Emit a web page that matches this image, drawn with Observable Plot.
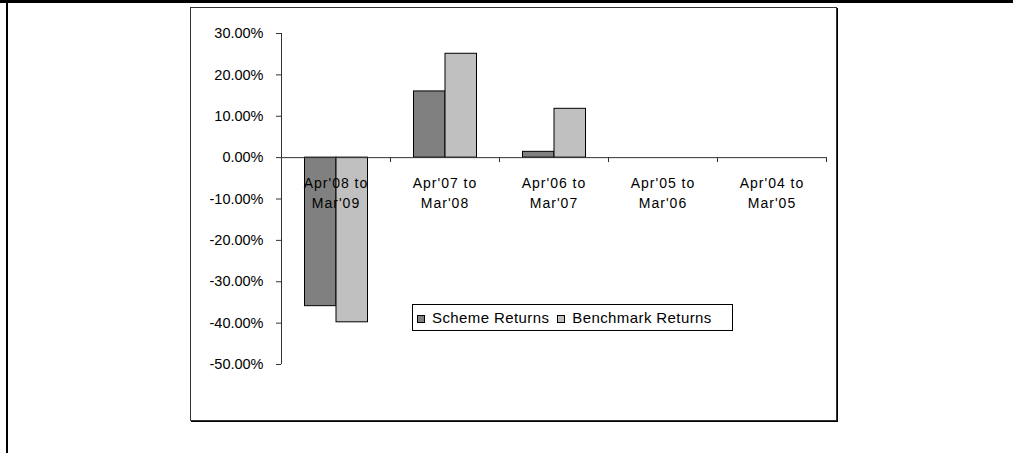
<!DOCTYPE html>
<html>
<head>
<meta charset="utf-8">
<script src="https://cdn.jsdelivr.net/npm/d3@7"></script>
<script src="https://cdn.jsdelivr.net/npm/@observablehq/plot@0.6"></script>
<style>
  html, body { margin: 0; padding: 0; background: #fff; }
  #wrap { position: relative; width: 1013px; height: 453px; overflow: hidden; font-family: "Liberation Sans", Arial, sans-serif; }
  #outerTop { position: absolute; left: 0; top: 0; width: 1013px; height: 3px; background: #000; }
  #outerLeft { position: absolute; left: 6px; top: 0; width: 2px; height: 453px; background: #000; }
  #chartBox { position: absolute; left: 190px; top: 7px; width: 645px; height: 412px; border: 1px solid #333; box-shadow: 1px 1px 0 #000; }
  #plot { position: absolute; left: 0; top: 0; }
  #legend { position: absolute; left: 412px; top: 304px; width: 321px; height: 27px; box-sizing: border-box; border: 1px solid #000; background: #fff;
            display: flex; align-items: center; padding-left: 4px; font-size: 15px; letter-spacing: 0.4px; color: #000; }
  #legend .sw { width: 8px; height: 8px; box-sizing: border-box; border: 1px solid #000; margin-right: 7px; margin-top: 2px; }
  #legend .item { display: flex; align-items: center; margin-right: 8px; white-space: nowrap; }
  .cat text { letter-spacing: 1px; }
</style>
</head>
<body>
<div id="wrap">
  <div id="outerTop"></div>
  <div id="outerLeft"></div>
  <div id="chartBox"></div>
  <div id="plot"></div>
  <div id="legend"></div>
</div>
<script>
// ---- data ----
const categories = ["Apr'08 to Mar'09", "Apr'07 to Mar'08", "Apr'06 to Mar'07", "Apr'05 to Mar'06", "Apr'04 to Mar'05"];
const categoryLabels = ["Apr'08 to\nMar'09", "Apr'07 to\nMar'08", "Apr'06 to\nMar'07", "Apr'05 to\nMar'06", "Apr'04 to\nMar'05"];
const seriesNames = ["Scheme Returns", "Benchmark Returns"];
const schemeReturns = [-0.359, 0.160, 0.014, null, null];
const benchmarkReturns = [-0.398, 0.251, 0.118, null, null];
const yTicks = [0.3, 0.2, 0.1, 0, -0.1, -0.2, -0.3, -0.4, -0.5];
const seriesColors = ["#808080", "#C0C0C0"];

// ---- layout ----
const W = 1013, H = 453;
const mLeft = 281, mRight = 187, mTop = 33, mBottom = 89;
const step = (W - mLeft - mRight) / categories.length;
const gap = 0.2156 * step, barW = 0.289 * step;

const scheme = categories.map((c, i) => ({category: c, value: schemeReturns[i]}));
const bench = categories.map((c, i) => ({category: c, value: benchmarkReturns[i]}));
const labels = categories.map((c, i) => ({category: c, label: categoryLabels[i]}));

const fmt = d => (Math.round(d * 10000) / 100).toFixed(2) + "%";

const chart = Plot.plot({
  width: W, height: H,
  marginLeft: mLeft, marginRight: mRight, marginTop: mTop, marginBottom: mBottom,
  style: {fontFamily: "'Liberation Sans', Arial, sans-serif", fontSize: "14px", background: "transparent", color: "#000"},
  x: {type: "band", domain: categories, padding: 0, axis: null, label: null},
  y: {domain: [-0.5, 0.3], axis: null, label: null},
  marks: [
    Plot.barY(scheme, {x: "category", y: "value", fill: seriesColors[0], stroke: "#000", strokeWidth: 1,
      insetLeft: gap, insetRight: step - gap - barW}),
    Plot.barY(bench, {x: "category", y: "value", fill: seriesColors[1], stroke: "#000", strokeWidth: 1,
      insetLeft: gap + barW, insetRight: step - gap - 2 * barW}),
    // y axis line
    Plot.ruleX([categories[0]], {x: d => d, dx: -step / 2, y1: -0.5, y2: 0.3, stroke: "#333"}),
    // zero axis line
    Plot.ruleY([0], {stroke: "#333"}),
    // category boundary ticks
    Plot.ruleX(categories, {x: d => d, dx: -step / 2, y1: 0, y2: -0.012, stroke: "#333"}),
    Plot.ruleX([categories[categories.length - 1]], {x: d => d, dx: step / 2, y1: 0, y2: -0.012, stroke: "#333"}),
    Plot.axisY({ticks: yTicks, tickFormat: fmt, tickSize: 5, tickPadding: 13, stroke: "#333", fill: "#000", fontSize: 14.5, label: null}),
    Plot.text(labels, {x: "category", y: () => 0, text: "label", lineAnchor: "top", dy: 16, lineHeight: 1.43,
      fontSize: 14, fill: "#000", className: "cat"})
  ]
});
document.getElementById("plot").appendChild(chart);

// legend
const legend = document.getElementById("legend");
seriesNames.forEach((name, i) => {
  const item = document.createElement("div");
  item.className = "item";
  const sw = document.createElement("div");
  sw.className = "sw";
  sw.style.background = seriesColors[i];
  const t = document.createElement("span");
  t.textContent = name;
  item.appendChild(sw);
  item.appendChild(t);
  legend.appendChild(item);
});
</script>
</body>
</html>
